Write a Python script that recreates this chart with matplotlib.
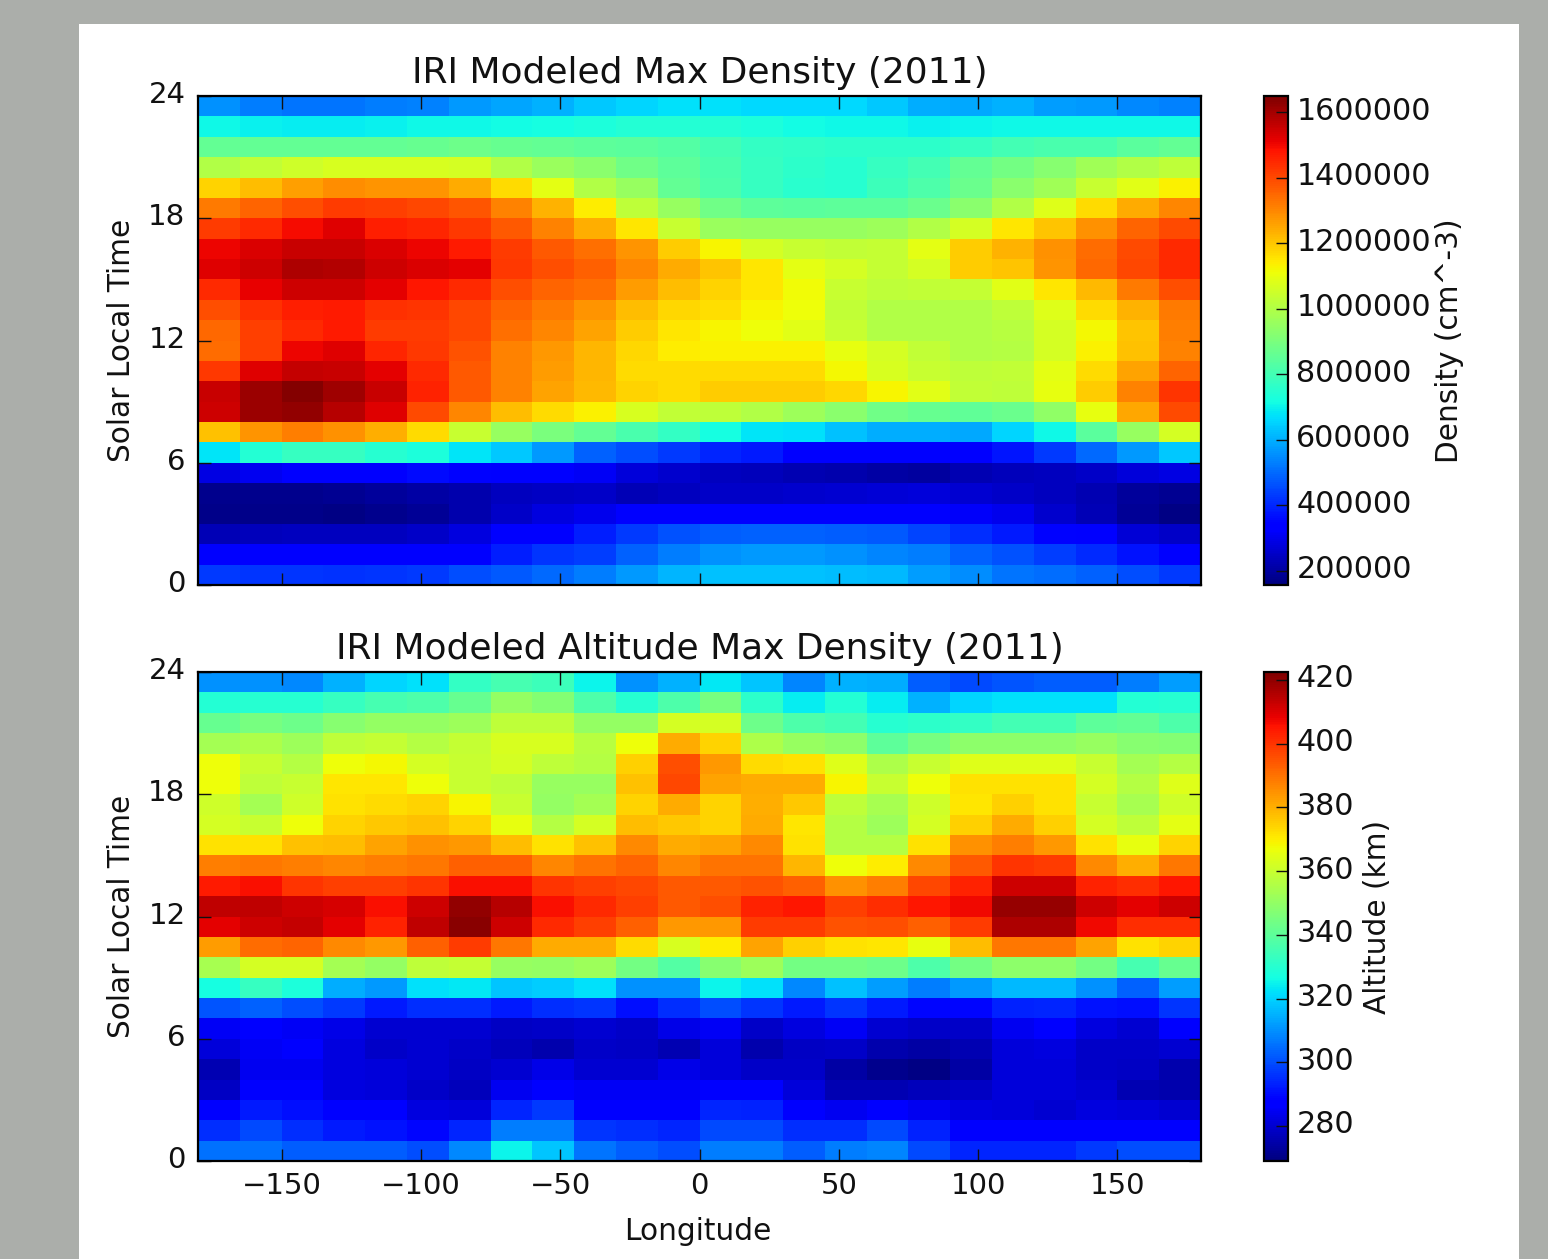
import numpy as np
import matplotlib
matplotlib.use("Agg")
import matplotlib.pyplot as plt
from matplotlib.patches import Rectangle
from matplotlib.ticker import FormatStrFormatter
from matplotlib.transforms import ScaledTranslation

W, H = 1548, 1259

lon_edges = np.arange(-180, 181, 15)
slt_edges = np.arange(0, 25, 1)
lon_ticks = [-150, -100, -50, 0, 50, 100, 150]
slt_ticks = [0, 6, 12, 18, 24]
density_ticks = [200000, 400000, 600000, 800000, 1000000, 1200000, 1400000, 1600000]
altitude_ticks = [280, 300, 320, 340, 360, 380, 400, 420]

# top row (hour 23) first, thousands of cm^-3
density_k = [
    [555,525,515,515,525,535,565,585,605,635,655,670,675,660,660,660,635,595,590,605,575,570,545,535],
    [705,695,690,690,695,705,710,715,720,730,740,745,740,730,715,710,705,695,700,708,710,710,710,710],
    [860,860,860,860,860,865,875,865,860,850,840,830,800,770,765,760,760,760,775,800,810,815,840,860],
    [1000,1030,1050,1070,1070,1070,1060,1000,960,930,880,850,815,780,760,750,775,800,860,890,920,970,1000,1020],
    [1180,1215,1262,1290,1278,1278,1245,1170,1090,1000,950,860,820,780,755,750,790,820,870,930,970,1040,1085,1130],
    [1320,1355,1390,1420,1410,1400,1375,1310,1230,1140,1020,950,880,850,840,850,850,870,930,1000,1080,1170,1245,1300],
    [1420,1445,1495,1525,1465,1455,1425,1370,1310,1238,1150,1040,960,950,950,950,965,1000,1060,1150,1200,1285,1355,1395],
    [1505,1530,1555,1555,1530,1505,1470,1420,1370,1335,1278,1190,1125,1060,1040,1030,1035,1090,1190,1230,1285,1345,1395,1445],
    [1525,1548,1585,1580,1545,1530,1515,1425,1390,1360,1300,1245,1205,1150,1090,1060,1035,1060,1190,1205,1278,1350,1400,1450],
    [1450,1510,1545,1545,1515,1475,1450,1390,1355,1335,1265,1215,1180,1150,1115,1040,1020,1025,1035,1085,1150,1220,1320,1390],
    [1390,1435,1465,1470,1435,1430,1400,1355,1320,1278,1215,1175,1160,1125,1110,1030,1000,1000,1000,1020,1080,1170,1230,1320],
    [1350,1415,1450,1470,1420,1420,1400,1335,1300,1258,1190,1150,1125,1110,1085,1040,1000,1000,1000,1010,1060,1120,1205,1315],
    [1345,1415,1505,1525,1455,1425,1385,1310,1270,1225,1175,1140,1135,1135,1135,1100,1060,1030,1000,1005,1060,1130,1210,1305],
    [1425,1525,1560,1552,1515,1450,1370,1310,1265,1225,1170,1165,1165,1170,1170,1120,1070,1040,1020,1025,1090,1170,1258,1355],
    [1552,1610,1640,1605,1550,1460,1370,1305,1258,1220,1180,1170,1190,1190,1190,1175,1125,1085,1030,1020,1100,1190,1310,1430],
    [1545,1610,1620,1575,1525,1395,1300,1215,1165,1130,1070,1030,1020,1000,965,930,885,865,855,870,940,1100,1250,1395],
    [1210,1278,1315,1285,1238,1170,1040,950,900,860,810,770,720,680,670,625,595,595,590,655,710,840,950,1060],
    [680,740,780,780,750,730,680,635,565,485,455,425,400,380,340,325,320,320,320,375,425,495,565,635],
    [285,305,320,325,330,355,345,335,320,310,275,260,240,235,225,215,205,200,225,235,240,250,275,285],
    [175,175,175,180,195,205,220,240,245,250,230,240,250,255,260,265,270,275,265,255,240,225,195,185],
    [170,170,170,165,175,190,215,255,280,300,320,325,335,335,335,335,330,320,315,300,260,230,190,165],
    [230,235,240,240,240,250,280,330,340,385,425,465,480,485,485,480,475,445,410,380,345,335,270,250],
    [330,330,335,335,335,330,330,385,420,435,485,525,555,565,565,555,540,525,485,465,435,405,370,330],
    [430,420,420,415,420,430,455,475,495,525,570,610,625,625,625,620,615,575,550,515,505,485,455,430],
]

# km, same row order
altitude = [
    [310,310,309,315,320,322,332,336,334,325,310,315,323,318,308,315,314,302,299,301,302,302,307,312],
    [329,330,330,333,336,337,342,350,347,337,330,337,345,331,324,329,324,315,320,322,322,322,329,330],
    [342,345,343,348,350,350,352,358,358,350,350,362,362,343,337,335,330,331,332,335,335,340,341,337],
    [353,355,352,358,359,356,359,363,363,357,367,381,374,355,351,349,340,345,349,349,349,351,348,347],
    [367,360,356,367,368,362,360,362,358,356,375,396,384,373,372,364,355,360,364,364,364,360,353,356],
    [367,358,360,371,371,367,360,358,351,351,377,397,382,381,381,369,360,367,372,372,372,362,356,364],
    [361,353,361,372,373,374,369,360,350,353,374,381,374,380,376,358,354,361,371,375,372,360,354,361],
    [362,360,367,374,376,377,374,366,356,362,378,376,374,381,371,356,352,362,375,381,375,362,358,365],
    [372,372,377,378,382,385,384,378,372,377,386,381,382,386,372,356,356,372,385,388,384,372,366,374],
    [388,389,388,387,388,389,393,393,387,390,392,387,390,390,379,367,370,386,394,400,399,386,380,389],
    [404,406,400,398,398,400,406,406,400,398,397,394,394,395,393,385,388,397,403,412,412,403,401,405],
    [414,414,412,411,406,412,420,415,406,402,398,394,396,403,405,398,401,405,407,419,419,412,409,412],
    [409,412,413,409,403,414,421,412,402,398,393,384,384,399,399,395,396,393,399,416,416,407,401,401],
    [383,391,392,386,384,393,399,389,381,381,373,363,370,382,375,372,371,366,378,389,389,382,372,374],
    [354,362,362,353,350,358,359,351,350,352,344,338,348,352,344,344,343,337,344,349,349,344,336,342],
    [327,333,328,314,311,322,323,318,319,322,310,310,325,322,309,317,312,307,311,316,316,310,303,312],
    [301,303,300,297,292,295,295,292,295,296,290,295,300,296,292,296,292,289,289,293,294,291,290,296],
    [285,287,285,283,280,280,280,278,279,280,279,283,285,279,282,285,280,279,279,284,286,282,280,286],
    [281,285,286,282,279,280,279,277,275,279,278,276,281,275,278,279,275,274,276,281,282,279,279,280],
    [276,284,284,282,281,280,278,280,283,280,280,283,281,279,279,274,271,270,274,281,281,279,278,275],
    [278,286,286,282,281,279,277,284,286,285,285,285,287,286,281,276,276,277,278,281,281,280,276,275],
    [286,292,290,286,286,282,281,294,297,286,286,288,294,293,286,284,286,284,282,281,280,282,281,280],
    [295,299,295,292,291,289,294,307,307,296,295,294,299,299,295,295,299,293,287,287,287,287,287,287],
    [305,305,302,302,302,300,309,325,318,306,302,300,307,307,302,307,308,299,294,294,294,297,300,300],
]

density = np.array(density_k)[::-1] * 1000.0
altitude = np.array(altitude)[::-1]

TEXT = "#111111"


def px_axes(fig, x0, y0, x1, y1):
    return fig.add_axes([x0 / W, 1 - y1 / H, (x1 - x0) / W, (y1 - y0) / H])


def nudge_up(fig, labels, px):
    # tick labels sit a few pixels above their ticks in the reference
    off = ScaledTranslation(0, px / fig.dpi, fig.dpi_scale_trans)
    for lab in labels:
        lab.set_transform(lab.get_transform() + off)


def panel(fig, top, bottom, values, vmin, vmax, title, cticks, clabel, clabel_x, show_x):
    ax = px_axes(fig, 198, top, 1201, bottom)
    mesh = ax.pcolormesh(lon_edges, slt_edges, values, cmap="jet", vmin=vmin, vmax=vmax)
    ax.set_xlim(-180, 180)
    ax.set_ylim(0, 24)
    ax.set_xticks(lon_ticks)
    ax.set_yticks(slt_ticks)
    ax.tick_params(direction="in", top=True, right=True, length=9, width=1,
                   labelsize=21, pad=9, labelbottom=show_x, colors=TEXT)
    ax.tick_params(axis="x", pad=8)
    nudge_up(fig, ax.get_yticklabels(), 4)
    ax.set_title(title, fontsize=25.9, pad=9, color=TEXT)
    ax.set_ylabel("Solar Local Time", fontsize=21.3, labelpad=9, color=TEXT)
    if show_x:
        ax.set_xlabel("Longitude", fontsize=21.3, labelpad=10, color=TEXT)
        ax.xaxis.set_label_coords(0.4985, -0.115)
    for s in ax.spines.values():
        s.set_linewidth(1.6)

    cax = px_axes(fig, 1264, top, 1288, bottom)
    cb = fig.colorbar(mesh, cax=cax)
    cb.set_ticks(cticks)
    cax.yaxis.set_major_formatter(FormatStrFormatter("%d"))
    cax.tick_params(direction="in", length=9, width=1, labelsize=21.7, pad=6, colors=TEXT)
    nudge_up(fig, cax.get_yticklabels(), 4)
    cb.outline.set_linewidth(1.6)
    fig.text(clabel_x / W, 1 - (top + bottom) / 2 / H, clabel, rotation=90, fontsize=21.3,
             ha="center", va="center", color=TEXT)
    return ax


fig = plt.figure(figsize=(W / 100, H / 100), dpi=100, facecolor="#abaeaa")
fig.patches.append(Rectangle((79 / W, 0), (1519 - 79) / W, 1 - 24 / H, transform=fig.transFigure,
                             facecolor="white", edgecolor="none", zorder=-1))

panel(fig, 96, 585, density, 156000, 1649000, "IRI Modeled Max Density (2011)",
      density_ticks, "Density (cm^-3)", 1450, False)
panel(fig, 672, 1161, altitude, 269, 422.5, "IRI Modeled Altitude Max Density (2011)",
      altitude_ticks, "Altitude (km)", 1377, True)

fig.savefig("out.png", dpi=100, facecolor=fig.get_facecolor())
